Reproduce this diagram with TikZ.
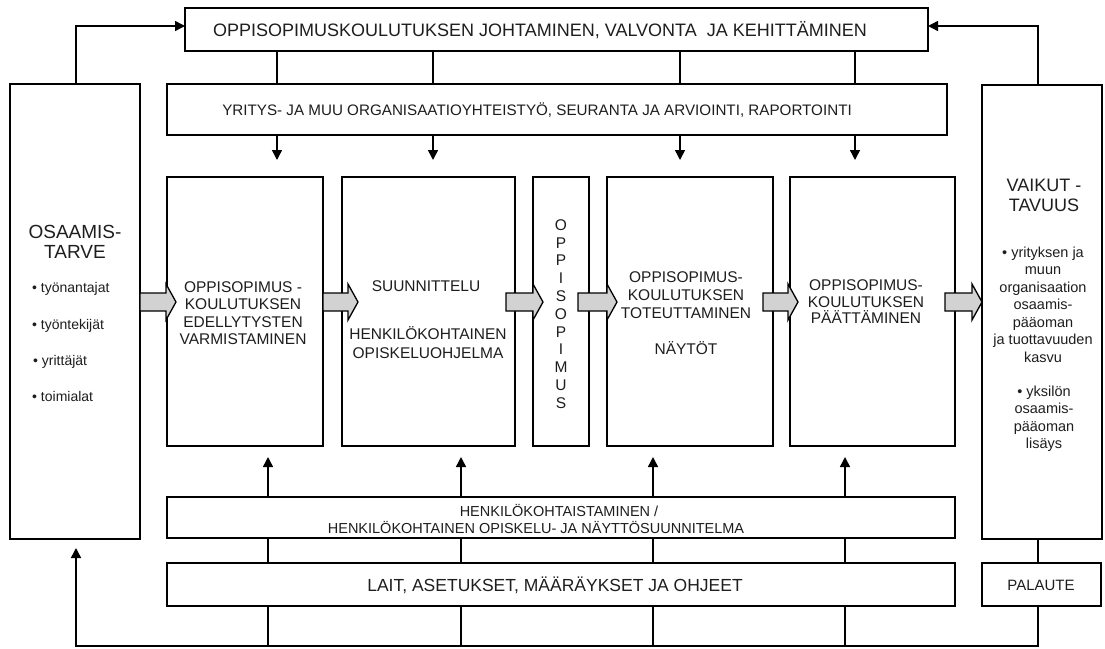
\documentclass[tikz,border=0pt]{standalone}
\usepackage{fontspec}
\setmainfont{Liberation Sans}
\usetikzlibrary{arrows.meta}
\definecolor{arrgray}{HTML}{D2D2D2}
\definecolor{txtc}{HTML}{1E1E1E}
\tikzset{
  pbox/.style={draw, line width=1.6pt, inner sep=0pt, outer sep=0pt, anchor=north west, fill=white},
  conn/.style={line width=1.5pt},
  arr/.style={line width=1.5pt, -{Triangle[length=10pt,width=10pt]}},
  garrowstyle/.style={draw, line width=1.3pt, fill=arrgray, line join=miter},
  txt/.style={text=txtc, inner sep=0pt, align=center},
}
\newcommand\garrow[2]{\draw[garrowstyle] (#1,293) -- (#2-10,293) -- (#2-10,284) -- (#2,302) -- (#2-10,320) -- (#2-10,311) -- (#1,311) -- cycle;}
\begin{document}
\begin{tikzpicture}[x=1pt,y=-1pt]
\useasboundingbox (0,0) rectangle (1105,648);
% boxes
\node[pbox, minimum width=743pt, minimum height=43pt] (top) at (185,8) {};
\node[pbox, minimum width=780pt, minimum height=51pt] (yr) at (167,84) {};
\node[pbox, minimum width=130pt, minimum height=455pt] (left) at (10,84) {};
\node[pbox, minimum width=120pt, minimum height=454pt] (right) at (982,85) {};
\node[pbox, minimum width=156pt, minimum height=269pt] (b1) at (167,177) {};
\node[pbox, minimum width=173pt, minimum height=269pt] (b2) at (342,177) {};
\node[pbox, minimum width=56pt, minimum height=269pt] (b3) at (533,177) {};
\node[pbox, minimum width=166pt, minimum height=269pt] (b4) at (607,177) {};
\node[pbox, minimum width=165pt, minimum height=269pt] (b5) at (790,177) {};
\node[pbox, minimum width=788pt, minimum height=41pt] (henk) at (167,497) {};
\node[pbox, minimum width=788pt, minimum height=43pt] (lait) at (167,563) {};
\node[pbox, minimum width=119pt, minimum height=43pt] (pal) at (982,563) {};
% coordinates
\coordinate (cx1) at (277,0); \coordinate (cx2) at (433,0);
\coordinate (cx3) at (680,0); \coordinate (cx4) at (855,0);
\coordinate (dx1) at (268,0); \coordinate (dx2) at (461,0);
\coordinate (dx3) at (653,0); \coordinate (dx4) at (845,0);
\coordinate (lx) at (76,0); \coordinate (rx) at (1038,0);
\coordinate (ty) at (0,26);
\coordinate (bl) at (76,646); \coordinate (br) at (1038,646);
% top connectors
\foreach \c in {cx1,cx2,cx3,cx4}{
  \draw[conn] (top.south -| \c) -- (yr.north -| \c);
  \draw[arr] (yr.south -| \c) -- ++(0,25);
}
% bottom connectors
\foreach \c in {dx1,dx2,dx3,dx4}{
  \draw[arr] (henk.north -| \c) -- ++(0,-40);
  \draw[conn] (henk.south -| \c) -- (lait.north -| \c);
  \draw[conn] (lait.south -| \c) -- (\c |- bl);
}
% loops
\draw[arr] (left.north -| lx) -- (lx |- ty) -- (top.west |- ty);
\draw[arr] (right.north -| rx) -- (rx |- ty) -- (top.east |- ty);
\draw[conn] (right.south -| rx) -- (pal.north -| rx);
\draw[arr] (pal.south -| rx) -- (br) -- (bl) -- ++(0,-98);
% grey block arrows
\garrow{140}{176}
\garrow{323}{358}
\garrow{506}{543}
\garrow{578}{617}
\garrow{763}{798}
\garrow{945}{982}
% texts
\node[txt, font=\fontsize{18}{20}\selectfont] (toptext) at (540,30) {OPPISOPIMUSKOULUTUKSEN JOHTAMINEN, VALVONTA\ \ JA KEHITTÄMINEN};
\node[txt, font=\fontsize{15.2}{17}\selectfont] (yrtext) at (537,110) {YRITYS- JA MUU ORGANISAATIOYHTEISTYÖ, SEURANTA JA ARVIOINTI, RAPORTOINTI};
\node[txt, font=\fontsize{19}{20}\selectfont] (osa) at (75,242) {OSAAMIS-\\TARVE};
\node[txt, anchor=west, font=\fontsize{14}{16}\selectfont] (o1) at (32,289) {• työnantajat};
\node[txt, anchor=west, font=\fontsize{14}{16}\selectfont] (o2) at (32,326) {• työntekijät};
\node[txt, anchor=west, font=\fontsize{14}{16}\selectfont] (o3) at (33,362) {• yrittäjät};
\node[txt, anchor=west, font=\fontsize{14}{16}\selectfont] (o4) at (32,396) {• toimialat};
\node[txt, font=\fontsize{15.5}{17.4}\selectfont] (b1t) at (243,313) {OPPISOPIMUS -\\KOULUTUKSEN\\EDELLYTYSTEN\\VARMISTAMINEN};
\node[txt, font=\fontsize{15.5}{17.4}\selectfont] (b2t1) at (426,286) {SUUNNITTELU};
\node[txt, font=\fontsize{15.5}{18.5}\selectfont] (b2t2) at (428,342.5) {HENKILÖKOHTAINEN\\OPISKELUOHJELMA};
\node[txt, font=\fontsize{15.5}{17.8}\selectfont] (b3t) at (561,314) {O\\P\\P\\I\\S\\O\\P\\I\\M\\U\\S};
\node[txt, font=\fontsize{15.5}{18}\selectfont] (b4t1) at (686,295) {OPPISOPIMUS-\\KOULUTUKSEN\\TOTEUTTAMINEN};
\node[txt, font=\fontsize{15.5}{17}\selectfont] (b4t2) at (686,348) {NÄYTÖT};
\node[txt, font=\fontsize{15.5}{16.5}\selectfont] (b5t) at (866,302) {OPPISOPIMUS-\\KOULUTUKSEN\\PÄÄTTÄMINEN};
\node[txt, font=\fontsize{18}{20}\selectfont] (rt) at (1044,195) {VAIKUT -\\TAVUUS};
\node[txt, font=\fontsize{14.5}{17.5}\selectfont] (r1) at (1043,304.5) {• yrityksen ja\\muun\\organisaation\\osaamis-\\pääoman\\ja tuottavuuden\\kasvu};
\node[txt, font=\fontsize{14.5}{17.5}\selectfont] (r2) at (1044,418.5) {• yksilön\\osaamis-\\pääoman\\lisäys};
\node[txt, font=\fontsize{14.5}{17}\selectfont] (h1) at (559,510) {HENKILÖKOHTAISTAMINEN /};
\node[txt, font=\fontsize{14.5}{17}\selectfont] (h2) at (536,527) {HENKILÖKOHTAINEN OPISKELU- JA NÄYTTÖSUUNNITELMA};
\node[txt, font=\fontsize{17.5}{20}\selectfont] (laitt) at (555,585) {LAIT, ASETUKSET, MÄÄRÄYKSET JA OHJEET};
\node[txt, font=\fontsize{15}{17}\selectfont] (palt) at (1041,585) {PALAUTE};
\end{tikzpicture}
\end{document}
